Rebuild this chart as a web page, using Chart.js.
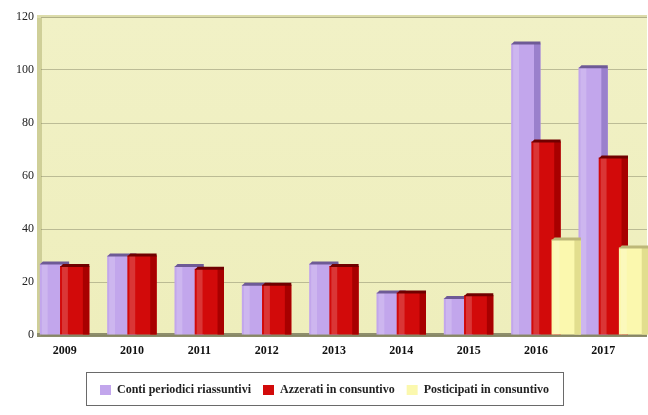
<!DOCTYPE html>
<html>
<head>
<meta charset="utf-8">
<script src="https://cdn.jsdelivr.net/npm/chart.js@4/dist/chart.umd.min.js"></script>
<style>
  html, body { margin: 0; padding: 0; background: #ffffff; }
  #wrap { width: 648px; height: 415px; }
</style>
</head>
<body>
<div id="wrap"><canvas id="chart" width="648" height="415"></canvas></div>
<script>
// dati
const anni = ['2009', '2010', '2011', '2012', '2013', '2014', '2015', '2016', '2017'];
const contiPeriodici = [27, 30, 26, 19, 27, 16, 14, 110, 101];
const azzerati = [26, 30, 25, 19, 26, 16, 15, 73, 67];
const posticipati = [0, 0, 0, 0, 0, 0, 0, 36, 33];
const yTicks = [0, 20, 40, 60, 80, 100, 120];

const serie = [
  { label: 'Conti periodici riassuntivi', data: contiPeriodici, color: '#c2a6ec', side: '#9a80cc', top: '#6e5a96' },
  { label: 'Azzerati in consuntivo', data: azzerati, color: '#d20a0a', side: '#a80000', top: '#700000' },
  { label: 'Posticipati in consuntivo', data: posticipati, color: '#fbf8ae', side: '#e2de8e', top: '#bdb878' }
];

// sfondo giallo con parete e pavimento
const sfondo = {
  id: 'sfondo',
  beforeDraw(chart) {
    const { ctx, chartArea: a } = chart;
    ctx.save();
    const g = ctx.createLinearGradient(0, a.top, 0, a.bottom);
    g.addColorStop(0, '#f1f1c6');
    g.addColorStop(1, '#eeeebc');
    ctx.fillStyle = g;
    ctx.fillRect(a.left, a.top, a.right - a.left, a.bottom - a.top);
    // parete sinistra
    ctx.fillStyle = '#cfcf98';
    ctx.fillRect(a.left - 4, a.top, 5, a.bottom - a.top);
    // bordo alto
    ctx.fillStyle = '#dcdcaa';
    ctx.fillRect(a.left - 4, a.top - 2, a.right - a.left + 4, 3);
    // pavimento
    ctx.fillStyle = '#8e8e6c';
    ctx.fillRect(a.left - 4, a.bottom - 2, a.right - a.left + 4, 4);
    ctx.restore();
  }
};

// disegna le barre nell'ordine dei dataset (rosso sopra viola, giallo sopra rosso) con effetto 3D
const barre3d = {
  id: 'barre3d',
  beforeDatasetsDraw(chart) {
    const ctx = chart.ctx;
    chart.data.datasets.forEach((ds, i) => {
      const meta = chart.getDatasetMeta(i);
      if (meta.hidden) return;
      const s = serie[i];
      meta.data.forEach(bar => {
        const p = bar.getProps(['x', 'y', 'base', 'width'], true);
        const h = p.base - p.y;
        if (h < 1) return;
        bar.draw(ctx);
        const l = p.x - p.width / 2;
        const r = p.x + p.width / 2;
        ctx.save();
        // lato destro piu scuro
        ctx.fillStyle = s.side;
        ctx.fillRect(r - p.width * 0.22, p.y, p.width * 0.22, h);
        // riflesso a sinistra
        ctx.fillStyle = 'rgba(255,255,255,0.18)';
        ctx.fillRect(l + 2, p.y, p.width * 0.2, h);
        // tappo superiore
        ctx.fillStyle = s.top;
        ctx.beginPath();
        ctx.moveTo(l, p.y + 1);
        ctx.lineTo(l + 3, p.y - 2);
        ctx.lineTo(r, p.y - 2);
        ctx.lineTo(r, p.y + 1);
        ctx.closePath();
        ctx.fill();
        ctx.restore();
      });
    });
    return false;
  }
};

// cornice attorno alla legenda
const cornice = {
  id: 'cornice',
  afterDraw(chart) {
    const lg = chart.legend;
    if (!lg || !lg.legendHitBoxes.length) return;
    const boxes = lg.legendHitBoxes;
    const left = Math.min(...boxes.map(b => b.left)) - 14;
    const right = Math.max(...boxes.map(b => b.left + b.width)) + 14;
    const ctx = chart.ctx;
    ctx.save();
    ctx.strokeStyle = '#6a6a6a';
    ctx.lineWidth = 1;
    ctx.strokeRect(Math.round(left) + 0.5, Math.round(lg.top) + 0.5, Math.round(right - left), Math.round(lg.height) - 1);
    ctx.restore();
  }
};

const ctx = document.getElementById('chart').getContext('2d');
new Chart(ctx, {
  type: 'bar',
  data: {
    labels: anni,
    datasets: serie.map(s => ({
      label: s.label,
      data: s.data,
      backgroundColor: s.color,
      borderWidth: 0,
      categoryPercentage: 0.9,
      barPercentage: 1.45
    }))
  },
  options: {
    responsive: false,
    animation: false,
    layout: { padding: { top: 17, right: 1, bottom: 9, left: 2 } },
    plugins: {
      tooltip: { enabled: false },
      legend: {
        position: 'bottom',
        labels: {
          boxWidth: 11,
          boxHeight: 10,
          padding: 12,
          color: '#222',
          font: { family: 'Liberation Serif', size: 12, weight: 'bold' }
        }
      }
    },
    scales: {
      x: {
        grid: { display: false, drawTicks: false },
        border: { display: false },
        ticks: {
          color: '#111',
          padding: 9,
          labelOffset: -10,
          font: { family: 'Liberation Serif', size: 12, weight: 'bold' }
        },
        afterFit(scale) { scale.height = 37; }
      },
      y: {
        min: 0,
        max: 120,
        afterBuildTicks(scale) { scale.ticks = yTicks.map(v => ({ value: v })); },
        grid: { color: 'rgba(125,125,95,0.45)', lineWidth: 1, drawTicks: false },
        border: { display: false },
        ticks: {
          color: '#222',
          padding: 7,
          font: { family: 'Liberation Serif', size: 12 }
        },
        afterFit(scale) { scale.width = 39; }
      }
    }
  },
  plugins: [sfondo, barre3d, cornice]
});
</script>
</body>
</html>
